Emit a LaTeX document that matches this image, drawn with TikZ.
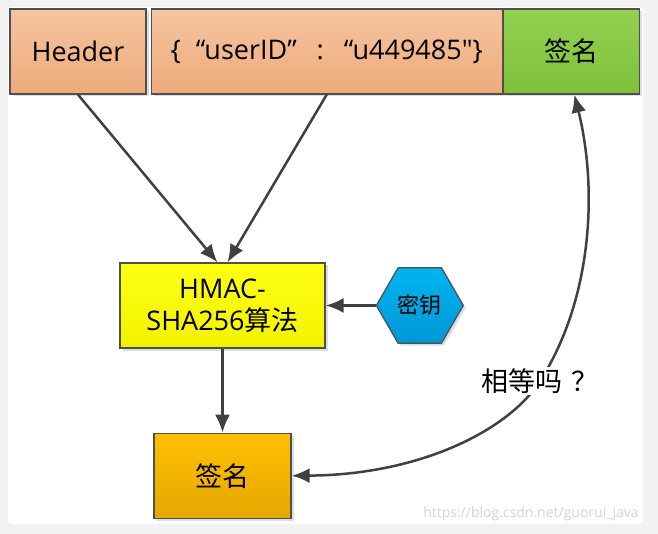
\documentclass[tikz,border=0pt]{standalone}
\usepackage{fontspec}
\setmainfont{Open Sans}
\newfontfamily\cjk{Noto Sans CJK SC}
\usetikzlibrary{arrows.meta,positioning,shapes.geometric,shadows}
\definecolor{pagegray}{HTML}{F2F2F2}
\definecolor{frame}{HTML}{4F4F4F}
\definecolor{arrowc}{HTML}{404040}
\definecolor{peachtop}{HTML}{F6C4A0}
\definecolor{peachbot}{HTML}{EEAB7A}
\definecolor{greentop}{HTML}{94D152}
\definecolor{greenbot}{HTML}{7DC13A}
\definecolor{yellowtop}{HTML}{FFFF14}
\definecolor{yellowbot}{HTML}{F2F200}
\definecolor{bluetop}{HTML}{00B4F0}
\definecolor{bluebot}{HTML}{0097D6}
\definecolor{goldtop}{HTML}{FFC000}
\definecolor{goldbot}{HTML}{E5A800}
\definecolor{wmgray}{HTML}{D4D4D4}
\newcommand\boxfont{\fontsize{27}{32}\selectfont}
\newcommand\straightqt{{\addfontfeature{Ligatures=TeXOff}"}}
\pgfdeclarelayer{back}
\pgfdeclarelayer{bg}
\pgfsetlayers{back,bg,main}

\begin{document}
\begin{tikzpicture}[
  x=1pt, y=-1pt,
  part/.style={draw=frame, line width=1.2pt, minimum height=85pt, inner sep=0pt, align=center, font=\boxfont,
    drop shadow={shadow xshift=2.5pt, shadow yshift=-2.5pt, fill=black!25, opacity=.5}},
  peachbox/.style={part, top color=peachtop, bottom color=peachbot},
  greenbox/.style={part, top color=greentop, bottom color=greenbot},
  yellowbox/.style={part, top color=yellowtop, bottom color=yellowbot},
  goldbox/.style={part, top color=goldtop, bottom color=goldbot},
  keyhex/.style={part, regular polygon, regular polygon sides=6, minimum size=87pt, minimum height=0pt,
    top color=bluetop, bottom color=bluebot, font=\fontsize{22}{26}\selectfont\cjk},
  arrow/.style={-{Latex[length=18pt,width=15pt]}, line width=2.5pt, draw=arrowc}
]
\useasboundingbox (0,0) rectangle (658,534);
\begin{pgfonlayer}{back}
\fill[pagegray] (0,0) rectangle (658,534);
\fill[white, rounded corners=4pt] (8,7) rectangle (643,524);
\end{pgfonlayer}

% token parts
\node[peachbox, minimum width=136pt] (hdr) at (78,51.5) {Header};
\node[peachbox, minimum width=351pt, right=4pt of hdr] (json)
  {\{\hspace{15pt}“userID”\hspace{20pt}:\hspace{20pt}“u449485\straightqt\}};
\node[greenbox, minimum width=136pt, right=0pt of json] (sig1) {\cjk 签名};

% signing
\node[yellowbox, minimum width=205pt] (hmac) at (222.5,305.5) {HMAC-\\SHA256{\cjk 算法}};
\node[keyhex, right=50pt of hmac] (key) {密钥};
\node[goldbox, minimum width=137pt, below=84pt of hmac] (sig2) {\cjk 签名};

\node[fill=white, inner sep=2pt, font=\boxfont\cjk] (eq) at (540,381) {相等吗\hspace{9pt}？};
\node[text=wmgray, font=\fontsize{14}{16}\selectfont] (wm) at (531,514) {https://blog.csdn.net/guorui\_java};

\draw[arrow] (hdr.south) -- ([xshift=-5pt]hmac.north);
\draw[arrow] (json.south) -- ([xshift=5pt]hmac.north);
\draw[arrow] (key.west) -- (hmac.east);
\draw[arrow] (hmac) -- (sig2);
\begin{pgfonlayer}{bg}
\draw[arrow, {Latex[length=18pt,width=15pt]}-{Latex[length=18pt,width=15pt]}]
  (sig2.east) .. controls (420,475) and (509,430) .. (eq.center)
  .. controls (592,300) and (598,190) .. ([xshift=3pt]sig1.south);
\end{pgfonlayer}
\end{tikzpicture}
\end{document}
